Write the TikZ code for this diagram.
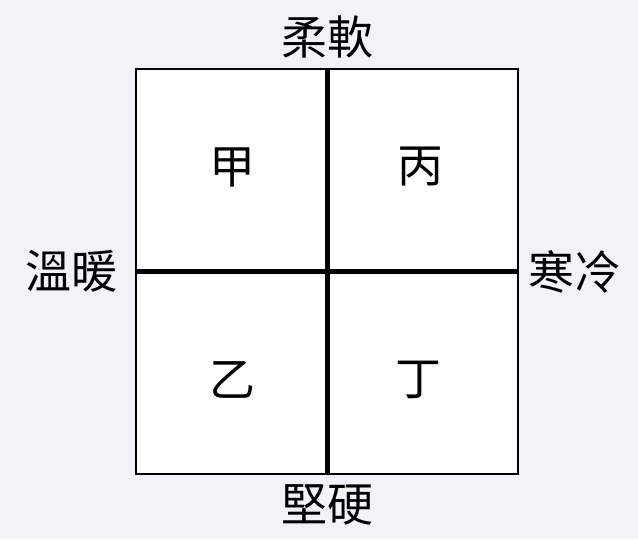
\documentclass[tikz,border=0pt]{standalone}
\usepackage{fontspec}
\newfontfamily\cjk{Noto Sans CJK TC}
\usetikzlibrary{positioning}
\definecolor{paper}{RGB}{242,242,247}

\begin{document}
\begin{tikzpicture}[x=1pt, y=-1pt, node distance=10pt,
    label/.style={font=\cjk\fontsize{46}{50}\selectfont, inner sep=0pt},
    axis/.style={line width=5pt}]
    % background and page size
    \fill[paper] (0,0) rectangle (638,539);
    \useasboundingbox (0,0) rectangle (638,539);

    % the square
    \node[draw, line width=1.5pt, fill=white, minimum width=382pt, minimum height=405pt, inner sep=0pt] (box) at (327,271.5) {};

    % the cross
    \draw[axis] (box.north) -- (box.south);
    \draw[axis] (box.west) -- (box.east);

    % the four quadrants
    \node[label] (jia)  at (232,167) {甲};
    \node[label] (bing) at (420,167) {丙};
    \node[label] (yi)   at (232,380) {乙};
    \node[label] (ding) at (418,380) {丁};

    % labels round the square
    \node[label] (soft) [above=of box] {柔軟};
    \node[label] (hard) [below=of box] {堅硬};
    \node[label] (warm) [left=of box, xshift=-8pt] {溫暖};
    \node[label] (cold) [right=of box] {寒冷};
\end{tikzpicture}
\end{document}
